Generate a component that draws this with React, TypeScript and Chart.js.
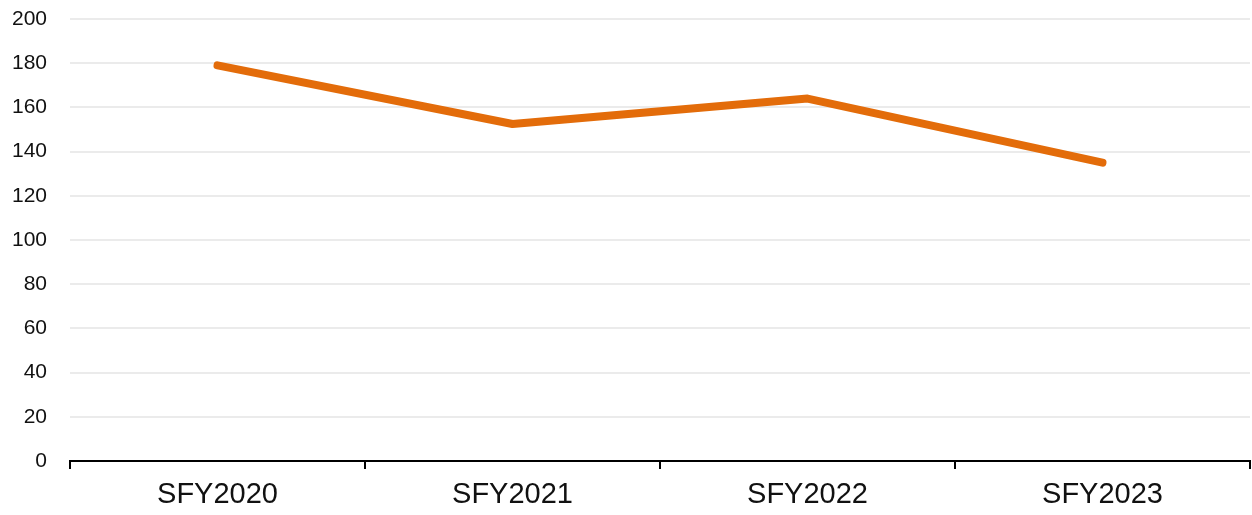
import React, { useEffect, useRef } from "react";
import { Chart, registerables } from "chart.js";

Chart.register(...registerables);

const categories = ["SFY2020", "SFY2021", "SFY2022", "SFY2023"];
const values = [179, 152.5, 164, 135];
const yMin = 0;
const yMax = 200;
const yStep = 20;

export default function App() {
  const ref = useRef<HTMLCanvasElement | null>(null);

  useEffect(() => {
    document.body.style.margin = "0";
    const canvas = ref.current;
    if (!canvas) return;
    const chart = new Chart(canvas, {
      type: "line",
      data: {
        labels: categories,
        datasets: [
          {
            data: values,
            borderColor: "#E36C0A",
            backgroundColor: "#E36C0A",
            borderWidth: 8,
            borderCapStyle: "round",
            borderJoinStyle: "round",
            pointRadius: 0,
            tension: 0,
            fill: false,
          },
        ],
      },
      options: {
        animation: false,
        responsive: true,
        maintainAspectRatio: false,
        layout: { padding: { top: 19, right: 2, left: 0, bottom: 0 } },
        plugins: { legend: { display: false }, tooltip: { enabled: false } },
        scales: {
          x: {
            offset: true,
            afterFit: (s: any) => {
              s.height = 54;
            },
            grid: {
              offset: true,
              drawOnChartArea: false,
              drawTicks: true,
              tickLength: 8,
              color: "#000000",
              lineWidth: 2,
            },
            border: { display: true, color: "#000000", width: 2 },
            ticks: {
              color: "#111111",
              padding: 9,
              font: { family: "'Liberation Sans', Arial, sans-serif", size: 29 },
            },
          },
          y: {
            min: yMin,
            max: yMax,
            afterFit: (s: any) => {
              s.width = 70;
              s.paddingTop = 0;
              s.paddingBottom = 0;
            },
            grid: {
              color: "#ebebeb",
              lineWidth: 2,
              drawTicks: false,
              tickLength: 0,
            },
            border: { display: false },
            ticks: {
              stepSize: yStep,
              color: "#111111",
              padding: 23,
              font: { family: "'Liberation Sans', Arial, sans-serif", size: 21 },
            },
          },
        },
      },
    });
    return () => chart.destroy();
  }, []);

  return (
    <div style={{ position: "relative", width: 1252, height: 515 }}>
      <canvas ref={ref} />
    </div>
  );
}
